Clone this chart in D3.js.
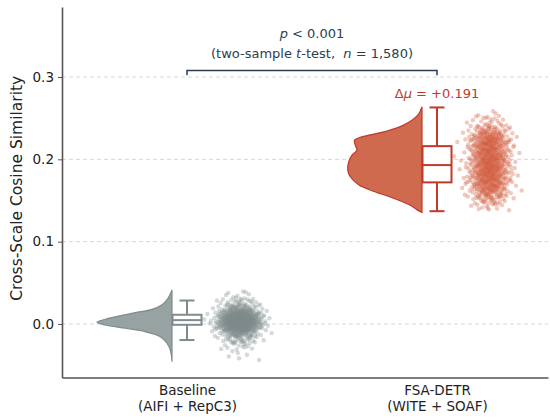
<!DOCTYPE html>
<html>
<head>
<meta charset="utf-8">
<script src="https://cdn.jsdelivr.net/npm/d3@7"></script>
<style>
body { margin: 0; background: #fff; }
text { font-family: "DejaVu Sans", sans-serif; }
</style>
</head>
<body>
<svg id="raincloud" width="550" height="419"></svg>
<script>
// categories on the x axis
var groups = ["Baseline", "FSA-DETR"];
var groupSub = ["(AIFI + RepC3)", "(WITE + SOAF)"];
var nPoints = 790; // per group, 1,580 in total

// box plot numbers
var q1 = [-0.001, 0.172];
var medians = [0.0047, 0.193];
var q3 = [0.0112, 0.216];
var whiskLo = [-0.0195, 0.137];
var whiskHi = [0.0285, 0.263];
var means = [0.004, 0.195];

// half violin outlines: value and relative density
var densValsBase = [0.0413, 0.0312, 0.0234, 0.0178, 0.0137, 0.0097, 0.0057, 0.0021, -0.0012, -0.0052, -0.0093, -0.0154, -0.0234, -0.0316, -0.0458];
var densBase = [0, 0.053, 0.133, 0.267, 0.49, 0.71, 0.89, 1, 0.89, 0.62, 0.36, 0.156, 0.067, 0.022, 0];
var densValsFsa = [0.2637, 0.2536, 0.2415, 0.2334, 0.2273, 0.2233, 0.2172, 0.2112, 0.2051, 0.197, 0.1869, 0.1788, 0.1687, 0.1606, 0.1526, 0.1444, 0.1383, 0.1356];
var densFsa = [0, 0.057, 0.244, 0.51, 0.8, 0.9, 0.89, 0.867, 0.933, 0.977, 0.99, 0.956, 0.84, 0.627, 0.373, 0.16, 0.06, 0];

var yTicks = [0.0, 0.1, 0.2, 0.3];

var fills = ["#97a3a2", "#d06a4f"];
var strokes = ["#7f8c8d", "#c0392b"];
var dots = ["#7f8c8d", "#d05a3e"];

var svg = d3.select("#raincloud"),
    width = +svg.attr("width"),
    height = +svg.attr("height"),
    margin = {top: 7, right: 2, bottom: 41.5, left: 62};

var x = d3.scaleLinear()
    .domain([-0.5, 1.444])
    .range([margin.left, width - margin.right]);

var y = d3.scaleLinear()
    .domain([-0.065, 0.385])
    .range([height - margin.bottom, margin.top]);

var dens = [
  densValsBase.map(function(v, i) { return {v: v, d: densBase[i]}; }),
  densValsFsa.map(function(v, i) { return {v: v, d: densFsa[i]}; })
];

// grid
svg.append("g")
  .selectAll("line")
  .data(yTicks)
  .enter().append("line")
    .attr("x1", margin.left)
    .attr("x2", width - margin.right)
    .attr("y1", y)
    .attr("y2", y)
    .attr("stroke", "#cccccc")
    .attr("stroke-width", 0.8)
    .attr("stroke-dasharray", "4,3");

var violinOff = 0.06, violinW = 0.3, boxW = 0.116, capW = 0.06, rainOff = 0.21, rainSd = 0.043;
var unit = x(1) - x(0);

// half violins
groups.forEach(function(g, gi) {
  var flat = x(gi - violinOff);
  var area = d3.area()
      .curve(d3.curveCatmullRom)
      .y(function(d) { return y(d.v); })
      .x0(flat)
      .x1(function(d) { return flat - d.d * violinW * unit; });
  svg.append("path")
      .datum(dens[gi])
      .attr("d", area)
      .attr("fill", fills[gi])
      .attr("stroke", strokes[gi])
      .attr("stroke-width", 1.2);
});

// boxes
var box = svg.append("g")
  .selectAll("g")
  .data(groups)
  .enter().append("g")
    .attr("stroke", function(d, i) { return strokes[i]; })
    .attr("stroke-width", 2)
    .attr("fill", "none");

box.append("line")
    .attr("x1", function(d, i) { return x(i); })
    .attr("x2", function(d, i) { return x(i); })
    .attr("y1", function(d, i) { return y(whiskHi[i]); })
    .attr("y2", function(d, i) { return y(q3[i]); });
box.append("line")
    .attr("x1", function(d, i) { return x(i); })
    .attr("x2", function(d, i) { return x(i); })
    .attr("y1", function(d, i) { return y(q1[i]); })
    .attr("y2", function(d, i) { return y(whiskLo[i]); });
box.append("line")
    .attr("x1", function(d, i) { return x(i - capW / 2); })
    .attr("x2", function(d, i) { return x(i + capW / 2); })
    .attr("y1", function(d, i) { return y(whiskHi[i]); })
    .attr("y2", function(d, i) { return y(whiskHi[i]); });
box.append("line")
    .attr("x1", function(d, i) { return x(i - capW / 2); })
    .attr("x2", function(d, i) { return x(i + capW / 2); })
    .attr("y1", function(d, i) { return y(whiskLo[i]); })
    .attr("y2", function(d, i) { return y(whiskLo[i]); });
box.append("rect")
    .attr("x", function(d, i) { return x(i - boxW / 2); })
    .attr("width", boxW * unit)
    .attr("y", function(d, i) { return y(q3[i]); })
    .attr("height", function(d, i) { return y(q1[i]) - y(q3[i]); })
    .attr("fill", "#fff");
box.append("line")
    .attr("x1", function(d, i) { return x(i - boxW / 2); })
    .attr("x2", function(d, i) { return x(i + boxW / 2); })
    .attr("y1", function(d, i) { return y(medians[i]); })
    .attr("y2", function(d, i) { return y(medians[i]); });

// rain: points placed through the violin profile (inverse cdf of the read density),
// spread with a Halton sequence so nothing is random
function halton(i, b) {
  var f = 1, r = 0;
  while (i > 0) { f /= b; r += f * (i % b); i = Math.floor(i / b); }
  return r;
}
function probit(p) {
  var q = p < 0.5 ? p : 1 - p;
  var t = Math.sqrt(-2 * Math.log(q));
  var z = t - (2.515517 + 0.802853 * t + 0.010328 * t * t) / (1 + 1.432788 * t + 0.189269 * t * t + 0.001308 * t * t * t);
  return p < 0.5 ? -z : z;
}
function inverseCdf(profile) {
  var pts = profile.slice().sort(function(a, b) { return a.v - b.v; });
  var cum = [0];
  for (var i = 1; i < pts.length; i++)
    cum.push(cum[i - 1] + (pts[i].v - pts[i - 1].v) * (pts[i].d + pts[i - 1].d) / 2);
  var total = cum[cum.length - 1];
  return function(u) {
    var target = u * total, k = 1;
    while (k < cum.length - 1 && cum[k] < target) k++;
    var t = (target - cum[k - 1]) / (cum[k] - cum[k - 1] || 1);
    return pts[k - 1].v + t * (pts[k].v - pts[k - 1].v);
  };
}

groups.forEach(function(g, gi) {
  var inv = inverseCdf(dens[gi]);
  var pts = d3.range(nPoints).map(function(i) {
    return {
      v: inv(halton(i + 1, 2)),
      j: gi + rainOff + rainSd * probit(Math.min(0.9995, Math.max(0.0005, halton(i + 1, 3))))
    };
  });
  svg.append("g")
    .selectAll("circle")
    .data(pts)
    .enter().append("circle")
      .attr("cx", function(d) { return x(d.j); })
      .attr("cy", function(d) { return y(d.v); })
      .attr("r", 2.2)
      .attr("fill", dots[gi])
      .attr("fill-opacity", 0.33);
});

// axes
var yAxis = svg.append("g")
    .attr("transform", "translate(" + margin.left + ",0)")
    .call(d3.axisLeft(y).tickValues(yTicks).tickSize(4).tickSizeOuter(0).tickPadding(4).tickFormat(d3.format(".1f")));
yAxis.select(".domain").attr("stroke", "#555").attr("stroke-width", 1.6);
yAxis.selectAll(".tick line").attr("stroke", "#555").attr("stroke-width", 1);
yAxis.selectAll(".tick text").attr("font-size", 13.5).attr("fill", "#222").style("font-family", "DejaVu Sans");

var xAxis = svg.append("g")
    .attr("transform", "translate(0," + (height - margin.bottom) + ")")
    .call(d3.axisBottom(x).tickValues([0, 1]).tickSize(0).tickSizeOuter(0).tickFormat(""));
xAxis.select(".domain").attr("stroke", "#555").attr("stroke-width", 1.6);
xAxis.selectAll(".tick text").remove();
xAxis.selectAll(".tick").append("text")
    .attr("fill", "#222")
    .attr("font-size", 13.5)
    .style("font-family", "DejaVu Sans")
    .attr("text-anchor", "middle")
    .attr("y", 17.5)
    .text(function(d) { return groups[d]; });
xAxis.selectAll(".tick").append("text")
    .attr("fill", "#222")
    .attr("font-size", 13.5)
    .style("font-family", "DejaVu Sans")
    .attr("text-anchor", "middle")
    .attr("y", 33.5)
    .text(function(d) { return groupSub[d]; });

svg.append("text")
    .attr("transform", "translate(17," + ((margin.top + height - margin.bottom) / 2 - 4) + ")rotate(-90)")
    .attr("text-anchor", "middle")
    .attr("dy", "0.35em")
    .attr("font-size", 15.5)
    .attr("fill", "#222")
    .text("Cross-Scale Cosine Similarity");

// significance bracket
var bracketY = 0.308, drop = 0.006;
svg.append("path")
    .attr("d", "M" + x(0) + "," + y(bracketY - drop) + "V" + y(bracketY) + "H" + x(1) + "V" + y(bracketY - drop))
    .attr("fill", "none")
    .attr("stroke", "#2c3e50")
    .attr("stroke-width", 1.5);

var note = svg.append("g")
    .attr("fill", "#2c3e50")
    .attr("font-size", 13)
    .attr("text-anchor", "middle");
var l1 = note.append("text").attr("x", x(0.5)).attr("y", y(bracketY) - 32);
l1.append("tspan").attr("font-style", "italic").text("p");
l1.append("tspan").text(" < 0.001");
var l2 = note.append("text").attr("x", x(0.5)).attr("y", y(bracketY) - 12);
l2.append("tspan").text("(two-sample ");
l2.append("tspan").attr("font-style", "italic").text("t");
l2.append("tspan").text("-test,\u00a0 ");
l2.append("tspan").attr("font-style", "italic").text("n");
l2.append("tspan").text(" = 1,580)");

// mean shift label
var dm = svg.append("text")
    .attr("x", x(1))
    .attr("y", y(whiskHi[1]) - 9)
    .attr("text-anchor", "middle")
    .attr("font-size", 13)
    .attr("fill", "#c0392b");
dm.append("tspan").text("Δ");
dm.append("tspan").attr("font-style", "italic").text("μ");
dm.append("tspan").text(" = +" + d3.format(".3f")(means[1] - means[0]));
</script>
</body>
</html>
